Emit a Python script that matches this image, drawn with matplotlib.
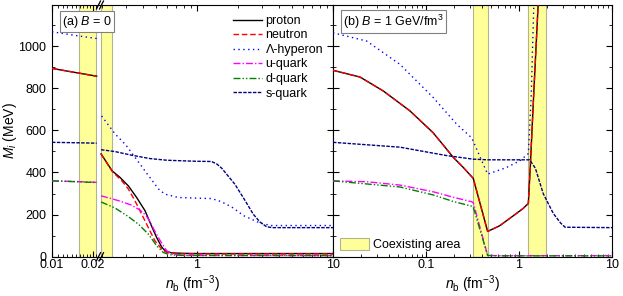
import matplotlib
matplotlib.use('Agg')
import matplotlib.pyplot as plt
from matplotlib.ticker import FixedLocator, NullFormatter, FixedFormatter
from matplotlib.patches import Patch
from matplotlib.lines import Line2D

plt.rcParams['font.family'] = ['Liberation Sans', 'DejaVu Sans']
plt.rcParams['mathtext.fontset'] = 'custom'
plt.rcParams['mathtext.rm'] = 'Liberation Sans'
plt.rcParams['mathtext.it'] = 'Liberation Sans:italic'
plt.rcParams['font.size'] = 9

# ---------------- data ----------------
species = ['proton', 'neutron', 'Λ-hyperon', 'u-quark', 'd-quark', 's-quark']

# panel (a) B = 0, low-density segment
na_lo = [0.010, 0.015, 0.0213]
a_lo_proton = [894, 874, 857]
a_lo_neutron = [894, 874, 857]
a_lo_lambda = [1068, 1050, 1036]
a_lo_u = [360, 357, 353]
a_lo_d = [360, 356, 352]
a_lo_s = [543, 541, 539]

# panel (a) B = 0, high-density segment
pa_n_proton = [0.197, 0.238, 0.27, 0.313, 0.36, 0.415, 0.46, 0.505, 0.55, 0.582, 0.65, 0.8, 1.0, 10]
pa_proton = [488, 407, 378, 336, 281, 218, 150, 91, 46, 28, 18, 16, 15, 15]
pa_n_neutron = [0.197, 0.238, 0.28, 0.313, 0.35, 0.392, 0.438, 0.49, 0.55, 0.60, 0.7, 1.0, 10]
pa_neutron = [488, 405, 360, 321, 265, 202, 139, 76, 36, 20, 14, 13, 13]
pa_n_lambda = [0.199, 0.249, 0.30, 0.35, 0.415, 0.52, 0.58, 0.73, 1.0, 1.28, 1.5, 1.8, 2.2, 2.9, 3.5, 10]
pa_lambda = [668, 584, 530, 472, 407, 322, 297, 281, 278, 276, 262, 236, 195, 160, 148, 148]
pa_n_u = [0.197, 0.237, 0.271, 0.33, 0.38, 0.42, 0.45, 0.48, 0.534, 0.598, 0.66, 0.8, 10]
pa_u = [289, 275, 264, 245, 222, 197, 168, 132, 78, 28, 12, 6, 5]
pa_n_d = [0.197, 0.25, 0.313, 0.37, 0.438, 0.505, 0.565, 0.63, 0.8, 10]
pa_d = [260, 231, 190, 155, 108, 52, 20, 9, 6, 5]
pa_n_s = [0.197, 0.25, 0.33, 0.45, 0.6, 0.8, 1.0, 1.28, 1.4, 1.52, 1.9, 2.25, 2.59, 2.9, 3.25, 3.6, 10]
pa_s = [508, 499, 482, 466, 458, 455, 453, 452, 440, 420, 344, 268, 202, 165, 142, 138, 138]

# panel (b) B = 1 GeV/fm^3
pb_n_proton = [0.01, 0.0195, 0.0347, 0.0673, 0.119, 0.167, 0.197, 0.25, 0.322, 0.46, 0.62, 0.867, 1.1, 1.26, 1.32, 1.45, 1.62]
pb_proton = [885, 853, 787, 692, 589, 510, 471, 425, 372, 120, 147, 194, 228, 253, 420, 800, 1230]
pb_n_neutron = [0.01, 0.0195, 0.0347, 0.0673, 0.119, 0.167, 0.197, 0.25, 0.322, 0.46, 0.62, 0.867, 1.1, 1.26, 1.32, 1.45, 1.62]
pb_neutron = [885, 853, 787, 692, 589, 510, 471, 425, 372, 120, 147, 194, 228, 253, 420, 800, 1230]
pb_n_lambda = [0.01, 0.023, 0.0525, 0.12, 0.214, 0.309, 0.322, 0.46, 0.73, 1.02, 1.26, 1.35, 1.45]
pb_lambda = [1063, 1024, 913, 755, 629, 565, 548, 392, 423, 455, 490, 750, 1230]
pb_n_u = [0.01, 0.023, 0.0525, 0.12, 0.197, 0.309, 0.322, 0.46, 0.6, 10]
pb_u = [360, 356, 340, 308, 282, 261, 257, 6, 5, 5]
pb_n_d = [0.01, 0.0525, 0.12, 0.197, 0.309, 0.322, 0.46, 0.6, 10]
pb_d = [360, 331, 293, 262, 240, 236, 6, 4, 4]
pb_n_s = [0.01, 0.0525, 0.167, 0.322, 0.46, 1.0, 1.3, 1.5, 1.82, 2.34, 2.8, 3.13, 10]
pb_s = [543, 520, 480, 463, 460, 460, 460, 420, 300, 205, 160, 140, 138]

# coexisting areas (n_b ranges)
a_bands = [(0.0158, 0.0211), (0.197, 0.237)]
b_bands = [(0.322, 0.46), (1.26, 1.94)]

# ---------------- styles ----------------
styles = {
    'proton': dict(color='black', ls='-', lw=1.0),
    'neutron': dict(color='#ff0000', ls=(0, (4, 2)), lw=1.0),
    'Λ-hyperon': dict(color='#0000ff', ls=(0, (1, 2.5)), lw=1.0),
    'u-quark': dict(color='#ff00ff', ls=(0, (5, 1.5, 1, 1.5)), lw=1.0),
    'd-quark': dict(color='#008000', ls=(0, (5, 1.5, 1, 1.5, 1, 1.5)), lw=1.0),
    's-quark': dict(color='#000080', ls=(0, (2.5, 1)), lw=1.0),
}
band_fc = '#ffff99'
band_ec = '#b4b48c'

W, H = 623, 296
fig = plt.figure(figsize=(W / 100, H / 100), dpi=100)

def fx(px):
    return px / W

def fy(py):
    return 1 - py / H

y_top, y_bot = 5, 256.7
x0, xbrk, xmid, x1 = 52, 98, 333, 612
ymax = 1195
hgt = fy(y_top) - fy(y_bot)

ax_lo = fig.add_axes([fx(x0), fy(y_bot), fx(xbrk) - fx(x0), hgt])
ax_hi = fig.add_axes([fx(xbrk), fy(y_bot), fx(xmid) - fx(xbrk), hgt])
ax_b = fig.add_axes([fx(xmid), fy(y_bot), fx(x1) - fx(xmid), hgt])

for ax in (ax_lo, ax_hi, ax_b):
    ax.set_xscale('log')
    ax.set_ylim(0, ymax)
    ax.yaxis.set_major_locator(FixedLocator([0, 200, 400, 600, 800, 1000]))
    ax.yaxis.set_minor_locator(FixedLocator([100, 300, 500, 700, 900, 1100]))
    ax.tick_params(which='both', direction='in', top=True, right=True, labelsize=9)
    ax.tick_params(axis='x', pad=2)
    ax.tick_params(axis='y', pad=4)
    ax.tick_params(which='major', length=4, width=0.8)
    ax.tick_params(which='minor', length=2, width=0.6)

ax_lo.set_xlim(0.01, 10 ** (-2 + (xbrk - x0) / 136))
ax_hi.set_xlim(10 ** ((xbrk - 197) / 136), 10)
ax_b.set_xlim(0.01, 10)

# x ticks
ax_lo.xaxis.set_major_locator(FixedLocator([0.01, 0.02]))
ax_lo.xaxis.set_major_formatter(FixedFormatter(['0.01', '0.02']))
ax_lo.xaxis.set_minor_locator(FixedLocator([0.011, 0.012, 0.013, 0.014, 0.015, 0.016, 0.017, 0.018, 0.019, 0.021]))
ax_lo.xaxis.set_minor_formatter(NullFormatter())
ax_hi.xaxis.set_major_locator(FixedLocator([1, 10]))
ax_hi.xaxis.set_major_formatter(FixedFormatter(['1', '10']))
ax_hi.xaxis.set_minor_locator(FixedLocator([0.2, 0.3, 0.4, 0.5, 0.6, 0.7, 0.8, 0.9, 2, 3, 4, 5, 6, 7, 8, 9]))
ax_hi.xaxis.set_minor_formatter(NullFormatter())
ax_b.xaxis.set_major_locator(FixedLocator([0.01, 0.1, 1, 10]))
ax_b.xaxis.set_major_formatter(FixedFormatter(['', '0.1', '1', '10']))
ax_b.xaxis.set_minor_formatter(NullFormatter())

# spines / y ticks
ax_lo.spines['right'].set_visible(False)
ax_lo.tick_params(which='both', right=False)
ax_hi.spines['left'].set_visible(False)
ax_hi.tick_params(which='both', left=False, labelleft=False)
ax_b.tick_params(labelleft=False)

# bands
for ax in (ax_lo, ax_hi):
    for lo, hi in a_bands:
        ax.axvspan(lo, hi, fc=band_fc, ec=band_ec, lw=0.8, zorder=1)
for lo, hi in b_bands:
    ax_b.axvspan(lo, hi, fc=band_fc, ec=band_ec, lw=0.8, zorder=1)

# curves panel (a)
lo_data = [a_lo_proton, a_lo_neutron, a_lo_lambda, a_lo_u, a_lo_d, a_lo_s]
for name, vals in zip(species, lo_data):
    ax_lo.plot(na_lo, vals, zorder=3, **styles[name])

hi_data = [(pa_n_proton, pa_proton), (pa_n_neutron, pa_neutron), (pa_n_lambda, pa_lambda),
           (pa_n_u, pa_u), (pa_n_d, pa_d), (pa_n_s, pa_s)]
for name, (nn, vals) in zip(species, hi_data):
    ax_hi.plot(nn, vals, zorder=3, **styles[name])

b_data = [(pb_n_proton, pb_proton), (pb_n_neutron, pb_neutron), (pb_n_lambda, pb_lambda),
          (pb_n_u, pb_u), (pb_n_d, pb_d), (pb_n_s, pb_s)]
for name, (nn, vals) in zip(species, b_data):
    ax_b.plot(nn, vals, zorder=3, **styles[name])

# break marks
for yb in (y_top, y_bot):
    for xc in (98.5, 101.5):
        fig.add_artist(Line2D([fx(xc - 2), fx(xc + 2)], [fy(yb + 4), fy(yb - 4)],
                              color='black', lw=0.9, zorder=10))

# panel labels
fig.text(fx(62), fy(21.5), '(a) $B$ = 0', ha='left', va='center', fontsize=9,
         bbox=dict(boxstyle='square,pad=0.2', fc='white', ec='#808080', lw=0.8))
fig.text(fx(343), fy(21.7), '(b) $B$ = 1 GeV/fm$^3$', ha='left', va='center', fontsize=9,
         bbox=dict(boxstyle='square,pad=0.2', fc='white', ec='#808080', lw=0.8))

# axis labels
fig.text(fx(10), fy((y_top + y_bot) / 2), '$M_i$ (MeV)', rotation=90, ha='center', va='center', fontsize=10)
fig.text(fx((x0 + xmid) / 2), fy(284), '$n_\\mathrm{b}$ (fm$^{-3}$)', ha='center', va='center', fontsize=10)
fig.text(fx((xmid + x1) / 2), fy(284), '$n_\\mathrm{b}$ (fm$^{-3}$)', ha='center', va='center', fontsize=10)

# species legend
handles = [Line2D([], [], **styles[n]) for n in species]
fig.legend(handles, species, loc='upper left', bbox_to_anchor=(fx(233), fy(15)),
           bbox_transform=fig.transFigure, frameon=False, borderpad=0, borderaxespad=0,
           handlelength=2.3, handletextpad=0.3, labelspacing=0.2, fontsize=9)

# coexisting legend
ax_b.legend(handles=[Patch(fc=band_fc, ec=band_ec, lw=0.8)], labels=['Coexisting area'],
            loc='lower left', bbox_to_anchor=(fx(340), fy(251)), bbox_transform=fig.transFigure,
            frameon=False, borderpad=0, borderaxespad=0, handlelength=2.3, handleheight=1.05,
            handletextpad=0.35, fontsize=9)

fig.savefig('out.png', dpi=100)
